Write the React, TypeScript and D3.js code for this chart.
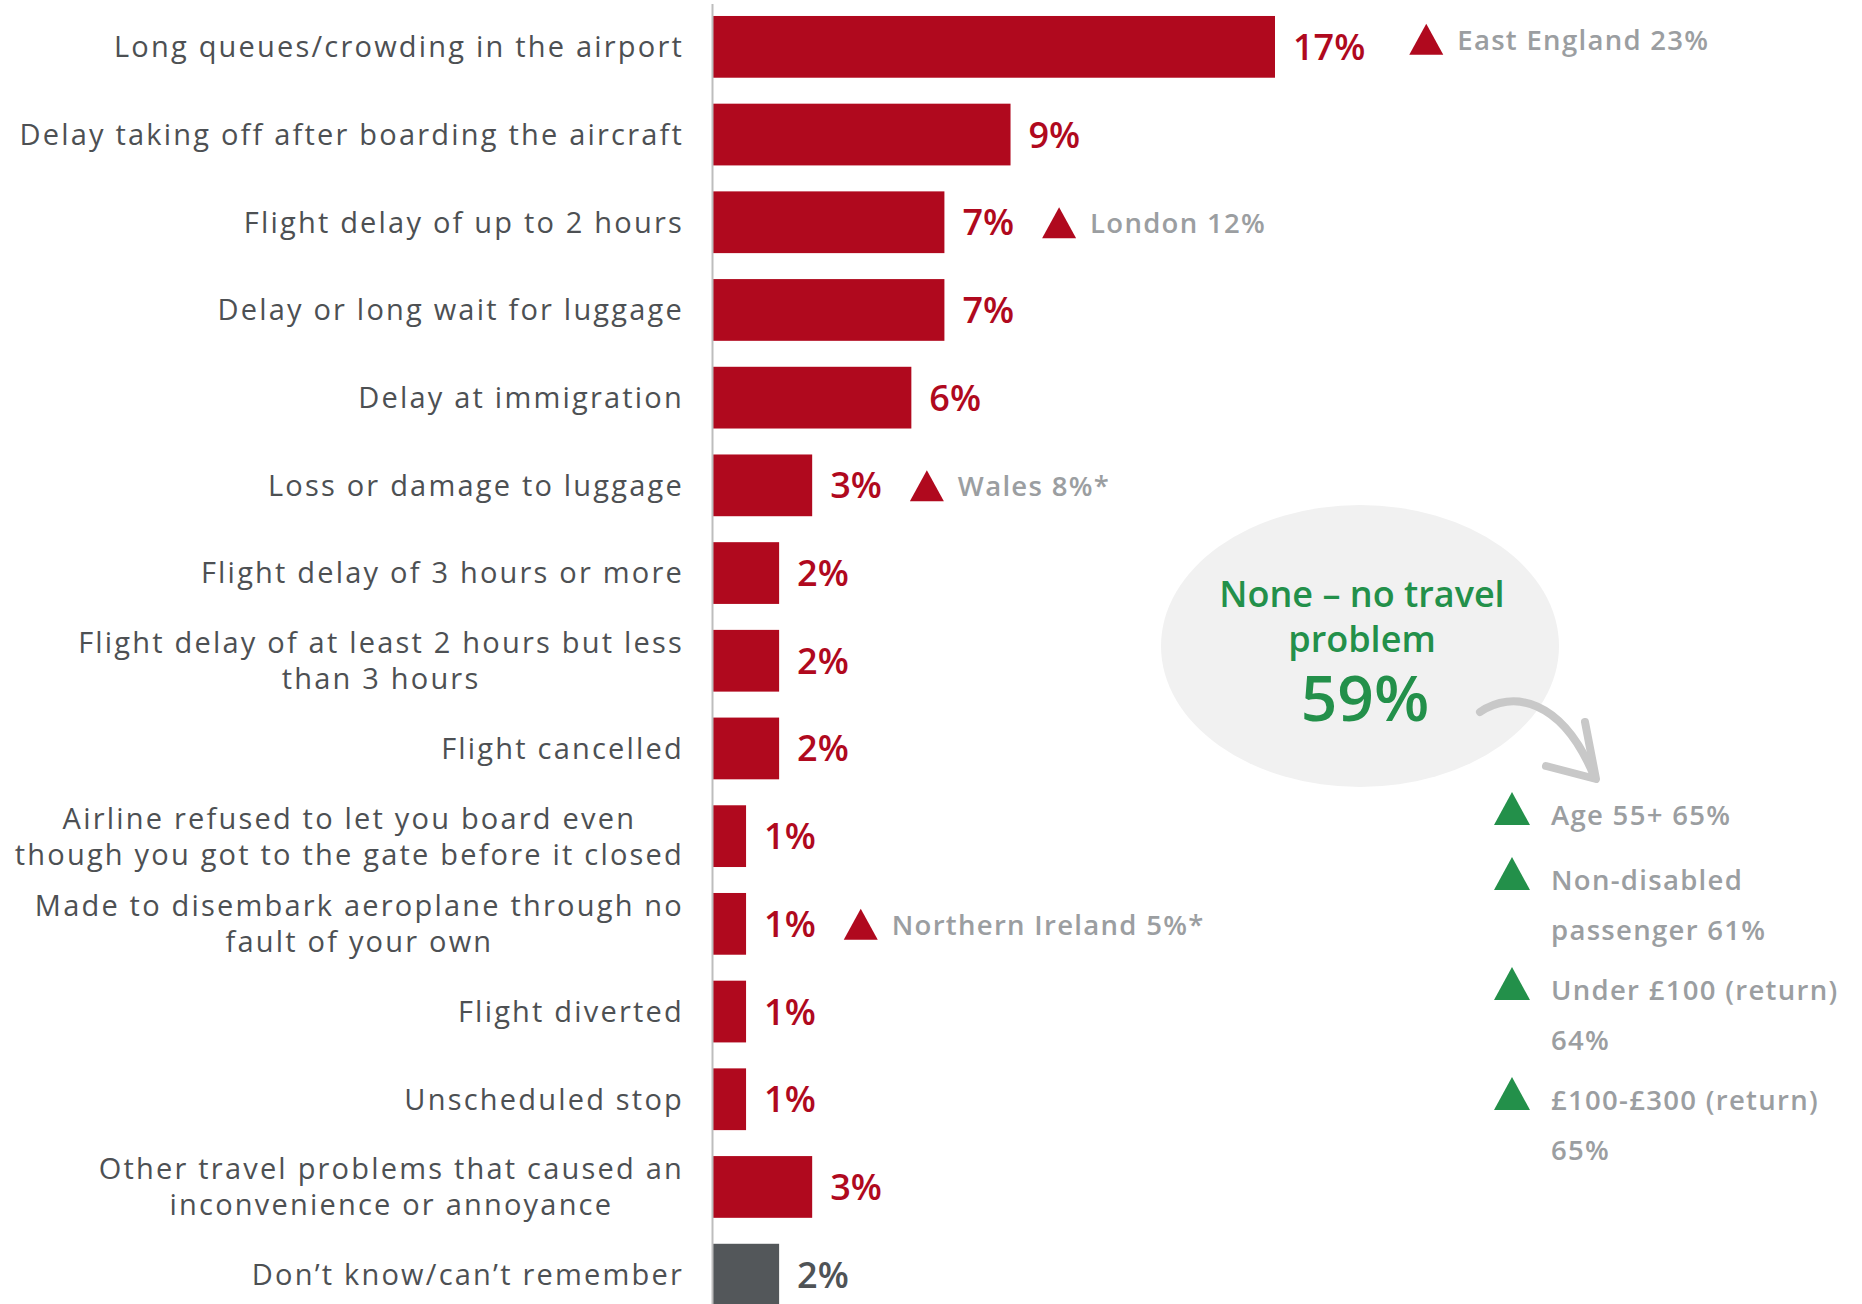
import React, { useEffect, useRef } from 'react'
import * as d3 from 'd3'

const categories = [
  'Long queues/crowding in the airport',
  'Delay taking off after boarding the aircraft',
  'Flight delay of up to 2 hours',
  'Delay or long wait for luggage',
  'Delay at immigration',
  'Loss or damage to luggage',
  'Flight delay of 3 hours or more',
  'Flight delay of at least 2 hours but less\nthan 3 hours',
  'Flight cancelled',
  'Airline refused to let you board even\nthough you got to the gate before it closed',
  'Made to disembark aeroplane through no\nfault of your own',
  'Flight diverted',
  'Unscheduled stop',
  'Other travel problems that caused an\ninconvenience or annoyance',
  'Don’t know/can’t remember',
]
const values = [17, 9, 7, 7, 6, 3, 2, 2, 2, 1, 1, 1, 1, 3, 2]
const dontKnow = 'Don’t know/can’t remember'

// significantly higher sub-groups, shown next to a bar
const regionCategories = [categories[0], categories[2], categories[5], categories[10]]
const regionTexts = ['East England 23%', 'London 12%', 'Wales 8%*', 'Northern Ireland 5%*']

const noneLabel = ['None – no travel', 'problem']
const noneValue = 59
const groupTexts = [
  ['Age 55+ 65%'],
  ['Non-disabled', 'passenger 61%'],
  ['Under £100 (return)', '64%'],
  ['£100-£300 (return)', '65%'],
]

const WIDTH = 1862
const HEIGHT = 1304
const RED = '#b0091e'
const GREEN = '#23904a'
const GREY_TEXT = '#9b9ea1'
const LABEL = '#4d5053'
const FONT = '"Open Sans", "Noto Sans", sans-serif'

const App = (): JSX.Element => {
  const ref = useRef<SVGSVGElement>(null)

  useEffect(() => {
    document.body.style.margin = '0'
    const svg = d3.select(ref.current)
    svg.selectAll('*').remove()

    const x = d3.scaleLinear().domain([0, 17]).range([713, 1275])
    const y = d3
      .scaleBand<string>()
      .domain(categories)
      .range([3, 3 + 87.7 * categories.length])
      .paddingInner(0.296)
      .paddingOuter(0.148)

    // bars
    svg
      .append('g')
      .selectAll('rect')
      .data(categories)
      .join('rect')
      .attr('x', x(0))
      .attr('y', d => y(d) as number)
      .attr('width', (d, i) => x(values[i]) - x(0))
      .attr('height', y.bandwidth())
      .attr('fill', d => (d === dontKnow ? '#53575a' : RED))

    // axis line
    svg
      .append('line')
      .attr('x1', x(0) - 0.5)
      .attr('x2', x(0) - 0.5)
      .attr('y1', 4)
      .attr('y2', HEIGHT)
      .attr('stroke', '#bdbdbd')
      .attr('stroke-width', 2)

    // category labels
    const labels = svg
      .append('g')
      .attr('font-family', FONT)
      .attr('font-size', 29)
      .attr('letter-spacing', 2.2)
      .attr('fill', LABEL)
      .attr('text-anchor', 'end')
    categories.forEach(c => {
      const lines = c.split('\n')
      const mid = (y(c) as number) + y.bandwidth() / 2
      const t = labels.append('text').attr('x', 684)
      lines.forEach((l, j) => {
        t.append('tspan')
          .attr('x', 684)
          .attr('y', mid + (j - (lines.length - 1) / 2) * 36)
          .attr('dy', '0.36em')
          .attr('text-anchor', lines.length > 1 ? 'middle' : 'end')
          .text(l)
      })
    })
    // centre the wrapped labels on their widest line, right aligned
    labels.selectAll<SVGTextElement, unknown>('text').each(function () {
      const spans = d3.select(this).selectAll<SVGTSpanElement, unknown>('tspan')
      if (spans.size() < 2) return
      const widths = spans.nodes().map(n => n.getComputedTextLength())
      const w = d3.max(widths) as number
      spans.attr('x', 684 - w / 2)
    })

    // value labels
    const valueTexts = svg
      .append('g')
      .attr('font-family', FONT)
      .attr('font-size', 36)
      .attr('font-weight', 600)
      .selectAll('text')
      .data(categories)
      .join('text')
      .attr('x', (d, i) => x(values[i]) + 18)
      .attr('y', d => (y(d) as number) + y.bandwidth() / 2)
      .attr('dy', '0.36em')
      .attr('fill', d => (d === dontKnow ? '#4f5356' : RED))
      .text((d, i) => values[i] + '%')

    // regional notes
    const notes = svg.append('g')
    regionCategories.forEach((c, k) => {
      const i = categories.indexOf(c)
      const node = valueTexts.nodes()[i] as SVGTextElement
      const tx = x(values[i]) + 18 + node.getComputedTextLength() + (i === 0 ? 44 : 28)
      const mid = (y(c) as number) + y.bandwidth() / 2 - (i === 0 ? 8 : 0)
      notes
        .append('path')
        .attr('d', `M${tx},${mid + 16} L${tx + 17},${mid - 15} L${tx + 34},${mid + 16} Z`)
        .attr('fill', RED)
      notes
        .append('text')
        .attr('x', tx + 48)
        .attr('y', mid + 1)
        .attr('dy', '0.36em')
        .attr('font-family', FONT)
        .attr('font-size', 27.5)
        .attr('font-weight', 600)
        .attr('letter-spacing', 1.3)
        .attr('fill', GREY_TEXT)
        .text(regionTexts[k])
    })

    // "none" bubble
    const bubble = svg.append('g')
    bubble
      .append('ellipse')
      .attr('cx', 1360)
      .attr('cy', 646)
      .attr('rx', 199)
      .attr('ry', 141)
      .attr('fill', '#f1f1f1')
    bubble
      .selectAll('text.none-label')
      .data(noneLabel)
      .join('text')
      .attr('class', 'none-label')
      .attr('x', 1362)
      .attr('y', (d, i) => 607 + i * 45)
      .attr('text-anchor', 'middle')
      .attr('font-family', FONT)
      .attr('font-weight', 600)
      .attr('font-size', 36)
      .attr('fill', GREEN)
      .text(d => d)
    bubble
      .append('text')
      .attr('x', 1365)
      .attr('y', 721)
      .attr('text-anchor', 'middle')
      .attr('font-family', FONT)
      .attr('font-weight', 600)
      .attr('font-size', 64)
      .attr('fill', GREEN)
      .text(noneValue + '%')

    // arrow
    const arrow = svg
      .append('g')
      .attr('fill', 'none')
      .attr('stroke', '#c8c8c8')
      .attr('stroke-width', 8)
      .attr('stroke-linecap', 'round')
      .attr('stroke-linejoin', 'round')
    arrow.append('path').attr('d', 'M1480,712 C1512,690 1562,698 1594,776')
    arrow.append('path').attr('d', 'M1546,766 L1596,779 L1585,722')

    // sub-group notes
    const groups = svg.append('g')
    let top = 792
    groupTexts.forEach(lines => {
      groups
        .append('path')
        .attr('d', `M1494,${top + 33} L1512,${top} L1530,${top + 33} Z`)
        .attr('fill', GREEN)
      groups
        .append('text')
        .attr('font-family', FONT)
        .attr('font-size', 27.5)
        .attr('font-weight', 600)
        .attr('letter-spacing', 1.3)
        .attr('fill', GREY_TEXT)
        .selectAll('tspan')
        .data(lines)
        .join('tspan')
        .attr('x', 1551)
        .attr('y', (d, j) => top + 33 + j * 50)
        .text(d => d)
      top += lines.length > 1 ? 110 : 65
    })
  }, [])

  return <svg ref={ref} width={WIDTH} height={HEIGHT} style={{ display: 'block', background: '#fff' }} />
}

export default App
